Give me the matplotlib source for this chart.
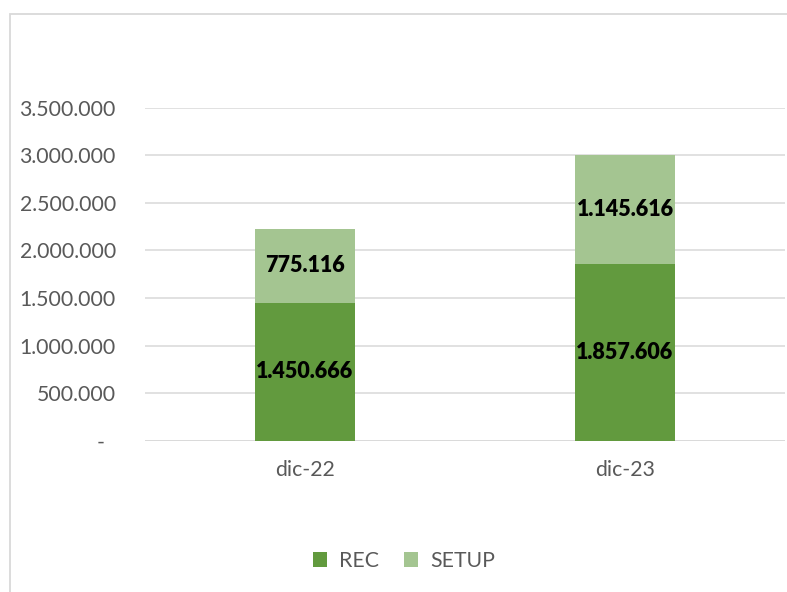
import matplotlib
matplotlib.use("Agg")
import matplotlib.pyplot as plt
from matplotlib.patches import Patch, Rectangle
import numpy as np

plt.rcParams["font.family"] = ["Lato", "DejaVu Sans"]

CATEGORIES = ["dic-22", "dic-23"]
REC = [1450666, 1857606]
SETUP = [775116, 1145616]
Y_TICKS = [0, 500000, 1000000, 1500000, 2000000, 2500000, 3000000, 3500000]

C_REC = "#629A3E"
C_SETUP = "#A4C591"
C_GRID = "#D9D9D9"
C_TEXT = "#595959"


def fmt_thousands(v):
    if v == 0:
        return "-  "
    return f"{v:,.0f}".replace(",", ".")


fig = plt.figure(figsize=(7.87, 5.92), dpi=100)
ax = fig.add_axes([145 / 787, 151 / 592, 640 / 787, 333.5 / 592])

x = np.arange(len(CATEGORIES))
w = 0.3125
ax.bar(x, REC, width=w, color=C_REC, zorder=3)
ax.bar(x, SETUP, width=w, bottom=REC, color=C_SETUP, zorder=3)

# centered value labels
for xi, r, s in zip(x, REC, SETUP):
    ax.text(xi, r / 2, fmt_thousands(r), ha="center", va="center",
            fontsize=15.5, fontweight="heavy", color="black", zorder=4)
    ax.text(xi, r + s / 2, fmt_thousands(s), ha="center", va="center",
            fontsize=15.5, fontweight="heavy", color="black", zorder=4)

ax.set_xlim(-0.5, len(CATEGORIES) - 0.5)
ax.set_ylim(0, 3500000)
ax.set_yticks(Y_TICKS)
ax.set_yticklabels([fmt_thousands(v) for v in Y_TICKS])
ax.set_xticks(x)
ax.set_xticklabels(CATEGORIES)
ax.tick_params(axis="y", length=0, pad=21, labelsize=15.3, labelcolor=C_TEXT)
ax.tick_params(axis="x", length=0, pad=14, labelsize=15.3, labelcolor=C_TEXT)
ax.grid(True, axis="y", color=C_GRID, linewidth=1.1, zorder=0)
ax.set_axisbelow(True)
for sp in ax.spines.values():
    sp.set_visible(False)
ax.axhline(0, color=C_GRID, linewidth=1.1, zorder=2)

# chart frame (runs off the right/bottom edge)
fig.patches.append(Rectangle((9.5 / 787, -0.05), 1.0, 1 - 13.5 / 592 + 0.05,
                             transform=fig.transFigure, fill=False,
                             edgecolor=C_GRID, linewidth=1.3, clip_on=False))

handles = [Patch(facecolor=C_REC, edgecolor="none"),
           Patch(facecolor=C_SETUP, edgecolor="none")]
fig.legend(handles, ["REC", "SETUP"], loc="center",
           bbox_to_anchor=(404 / 787, 1 - 561 / 592), ncol=2, frameon=False,
           fontsize=15.3, labelcolor=C_TEXT, handlelength=0.65, handleheight=0.65,
           handletextpad=0.55, columnspacing=1.2)

fig.savefig("out.png", dpi=100, facecolor="white")
